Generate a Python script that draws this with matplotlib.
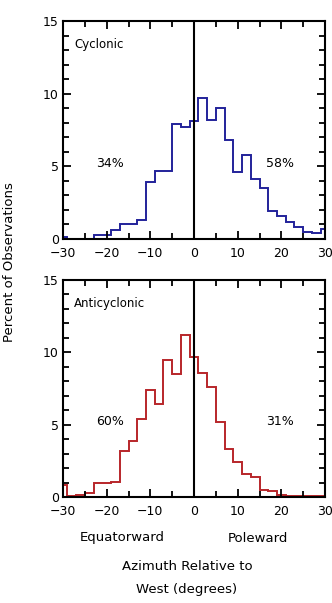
import numpy as np
import matplotlib
matplotlib.use("Agg")
import matplotlib.pyplot as plt
from matplotlib.ticker import MultipleLocator

# bin centres every 2 degrees (edges at odd numbers)
centers = list(range(-30, 31, 2))

cyclonic = [0.15, 0.0, 0.0, 0.0, 0.3, 0.3, 0.65, 1.0, 1.0, 1.3, 3.9, 4.7, 4.7, 7.9, 7.7,
            8.1,
            9.7, 8.2, 9.0, 6.8, 4.6, 5.8, 4.1, 3.5, 1.9, 1.6, 1.2, 0.8, 0.45, 0.4, 0.7]

anticyclonic = [0.8, 0.1, 0.15, 0.25, 1.0, 1.0, 1.05, 3.2, 3.9, 5.4, 7.4, 6.4, 9.5, 8.5, 11.2,
                9.7,
                8.6, 7.6, 5.2, 3.35, 2.45, 1.6, 1.4, 0.45, 0.4, 0.15, 0.1, 0.1, 0.1, 0.1, 0.1]

panel_names = ["Cyclonic", "Anticyclonic"]
left_pct = ["34%", "60%"]
right_pct = ["58%", "31%"]
line_colors = ["#22229a", "#b8262a"]

edges = np.array(centers + [centers[-1] + 2]) - 1

plt.rcParams['font.family'] = ['DejaVu Sans']
fig = plt.figure(figsize=(3.32, 6.03), dpi=100)

ax_top = fig.add_axes([63 / 332, 1 - 239 / 603, 262 / 332, 218 / 603])
ax_bot = fig.add_axes([63 / 332, 1 - 497 / 603, 262 / 332, 217 / 603])

for ax, vals, name, lp, rp, col in zip([ax_top, ax_bot], [cyclonic, anticyclonic],
                                      panel_names, left_pct, right_pct, line_colors):
    ax.stairs(vals, edges, color=col, lw=1.4)
    ax.axvline(0, color='black', lw=1.5)
    ax.set_xlim(-30, 30)
    ax.set_ylim(0, 15)
    ax.xaxis.set_major_locator(MultipleLocator(10))
    ax.xaxis.set_minor_locator(MultipleLocator(5))
    ax.yaxis.set_major_locator(MultipleLocator(5))
    ax.yaxis.set_minor_locator(MultipleLocator(1))
    ax.tick_params(which='both', direction='in', top=True, right=True, width=1.3,
                   labelsize=9)
    ax.tick_params(axis='x', pad=5.5)
    ax.tick_params(axis='y', pad=3)
    ax.tick_params(which='major', length=6)
    ax.tick_params(which='minor', length=4)
    for s in ax.spines.values():
        s.set_linewidth(1.5)
    ax.text(-27.5, 13.4, name, fontsize=8.5, va='center', ha='left')
    ax.text(-19.2, 5.2, lp, fontsize=9, va='center', ha='center')
    ax.text(19.7, 5.2, rp, fontsize=9, va='center', ha='center')

fig.text(10 / 332, 1 - 262 / 603, "Percent of Observations", rotation=90,
         fontsize=9.5, ha='center', va='center')
fig.text(122 / 332, 1 - 538 / 603, "Equatorward", fontsize=9.5, ha='center', va='center')
fig.text(258 / 332, 1 - 538 / 603, "Poleward", fontsize=9.5, ha='center', va='center')
fig.text(187 / 332, 1 - 567 / 603, "Azimuth Relative to", fontsize=9.5, ha='center', va='center')
fig.text(187 / 332, 1 - 590 / 603, "West (degrees)", fontsize=9.5, ha='center', va='center')

fig.savefig("out.png", dpi=100)
